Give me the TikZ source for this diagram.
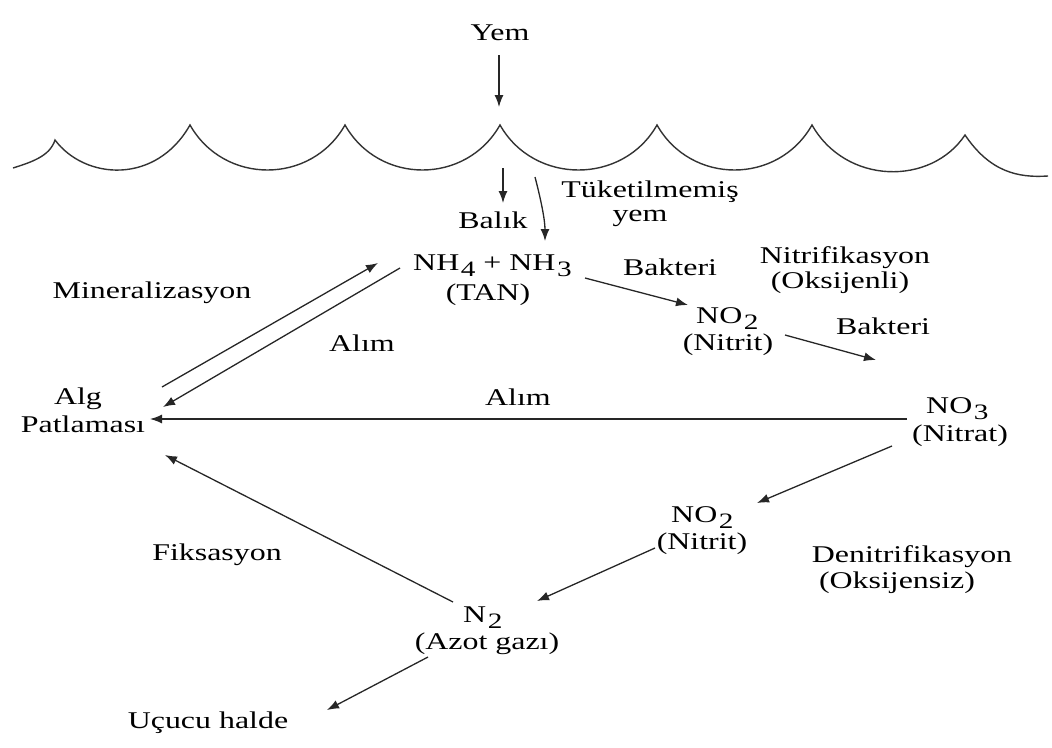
\documentclass[tikz,border=0pt]{standalone}
\usepackage{fontspec}
\setmainfont{Liberation Serif}[FakeStretch=1.33]
\usetikzlibrary{arrows.meta}
% lowered, nearly full-size index digit for the chemical formulas
\newcommand\chemsub[1]{\hspace{1.5pt}\raisebox{-6pt}{\fontsize{22}{22}\selectfont#1}}

\begin{document}
\begin{tikzpicture}[x=1pt,y=-1pt,
  lbl/.style={inner sep=0pt, font=\fontsize{24}{26}\selectfont, text=black},
  chem/.style={lbl, anchor=base west},
  flow/.style={draw=black!85, line width=1.3pt, -{Latex[length=12pt,width=9pt]}},
  wave/.style={draw=black!80, line width=1.4pt}]
\useasboundingbox (0,0) rectangle (1052,747);

% ---- water surface ----
\coordinate (w0) at (13,168);
\coordinate (c1) at (55,140);
\coordinate (c2) at (190,125);
\coordinate (c3) at (345,125);
\coordinate (c4) at (500,125);
\coordinate (c5) at (657,125);
\coordinate (c6) at (812,125);
\coordinate (c7) at (965,135);
\coordinate (w8) at (1048,176);
\draw[wave] (w0) .. controls (32,162) and (50,156) .. (c1)
  .. controls (85,180) and (156,185) .. (c2)
  .. controls (224,185) and (311,185) .. (c3)
  .. controls (379,185) and (466,185) .. (c4)
  .. controls (534,185) and (623,185) .. (c5)
  .. controls (691,185) and (778,185) .. (c6)
  .. controls (846,185) and (931,186) .. (c7)
  .. controls (990,172) and (1018,178) .. (w8);

% ---- labels ----
\node[lbl] (yem) at (500,33) {Yem};
\node[lbl] (balik) at (493,220) {Balık};
\node[lbl] (tuk) at (650,192) {Tüketilmemiş};
\node[lbl] (tukyem) at (640,218) {yem};
\node[chem] (nh) at (413,270) {NH\chemsub{4} + NH\chemsub{3}};
\node[lbl] (tan) at (488,295) {(TAN)};
\node[lbl] (bak1) at (670,267) {Bakteri};
\node[lbl] (nitr) at (845,258) {Nitrifikasyon};
\node[lbl] (oksl) at (840,283) {(Oksijenli)};
\node[chem] (no2a) at (696,323) {NO\chemsub{2}};
\node[lbl] (no2aL) at (728,345) {(Nitrit)};
\node[lbl] (bak2) at (883,326) {Bakteri};
\node[lbl] (miner) at (152,293) {Mineralizasyon};
\node[lbl] (alim1) at (362,343) {Alım};
\node[lbl] (alim2) at (518,397) {Alım};
\node[lbl] (alg) at (78,399) {Alg};
\node[lbl] (patl) at (83,424) {Patlaması};
\node[chem] (no3) at (926,413) {NO\chemsub{3}};
\node[lbl] (no3L) at (960,436) {(Nitrat)};
\node[chem] (no2b) at (671,522) {NO\chemsub{2}};
\node[lbl] (no2bL) at (702,544) {(Nitrit)};
\node[lbl] (denit) at (912,557) {Denitrifikasyon};
\node[lbl] (oksz) at (897,583) {(Oksijensiz)};
\node[lbl] (fiks) at (217,555) {Fiksasyon};
\node[chem] (n2) at (463,622) {N\chemsub{2}};
\node[lbl] (azot) at (487,644) {(Azot gazı)};
\node[lbl] (ucucu) at (208,723) {Uçucu halde};

% ---- connector ends ----
\coordinate (yemA) at (499,55);
\coordinate (yemB) at (499,107);
\coordinate (balA) at (503,168);
\coordinate (balB) at (503,203);
\coordinate (tukA) at (535,177);
\coordinate (tukB) at (545,241);
\coordinate (nhA) at (585,278);
\coordinate (nhB) at (688,305);
\coordinate (no2aA) at (785,335);
\coordinate (no2aB) at (876,360);
\coordinate (minA) at (162,387);
\coordinate (minB) at (378,263);
\coordinate (alA) at (400,268);
\coordinate (alB) at (163,407);
\coordinate (no3A) at (907,419);
\coordinate (no3B) at (150,419);
\coordinate (denA) at (892,446);
\coordinate (denB) at (757,503);
\coordinate (no2bA) at (655,548);
\coordinate (no2bB) at (537,601);
\coordinate (fikA) at (453,602);
\coordinate (fikB) at (165,455);
\coordinate (n2A) at (428,657);
\coordinate (n2B) at (327,710);

% ---- connectors ----
\draw[flow] (yemA) -- (yemB);
\draw[flow] (balA) -- (balB);
\draw[flow] (tukA) .. controls (541,200) and (545,220) .. (tukB);
\draw[flow] (nhA) -- (nhB);
\draw[flow] (no2aA) -- (no2aB);
\draw[flow] (minA) -- (minB);
\draw[flow] (alA) -- (alB);
\draw[flow] (no3A) -- (no3B);
\draw[flow] (denA) -- (denB);
\draw[flow] (no2bA) -- (no2bB);
\draw[flow] (fikA) -- (fikB);
\draw[flow] (n2A) -- (n2B);
\end{tikzpicture}
\end{document}
